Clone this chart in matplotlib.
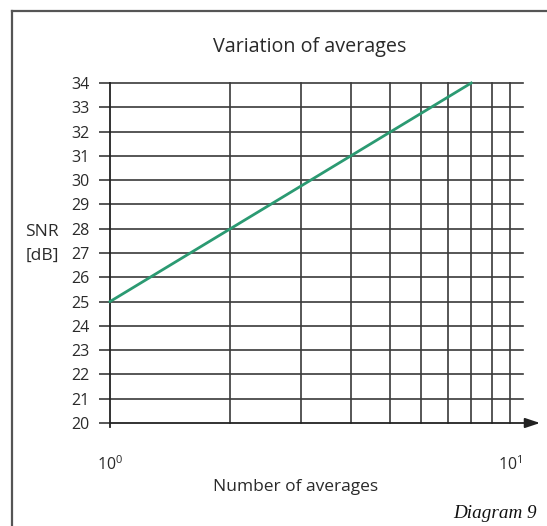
import numpy as np
import matplotlib
matplotlib.use("Agg")
import matplotlib.pyplot as plt
from matplotlib.lines import Line2D

plt.rcParams['font.family'] = ['Open Sans', 'DejaVu Sans']
plt.rcParams['mathtext.fontset'] = 'custom'
plt.rcParams['mathtext.rm'] = 'Open Sans'
plt.rcParams['mathtext.it'] = 'Open Sans'

### data ###
n_avg = [1, 2, 4, 8]
snr_db = [25, 28, 31, 34]
y_ticks = list(range(20, 35))
x_grid = [2, 3, 4, 5, 6, 7, 8, 9, 10]

W, H = 547, 526
fig = plt.figure(figsize=(W / 100, H / 100), dpi=100)

# axes placed in pixel terms: x=1 at 110px, y=20 at 423px
x0, x1 = 110, 540
y_bot, y_top = 423, 75
xmax = 10 ** ((x1 - x0) / 400.0)
ytop = 20 + (y_bot - y_top) / ((423 - 83) / 14.0)
ax = fig.add_axes([x0 / W, 1 - y_bot / H, (x1 - x0) / W, (y_bot - y_top) / H])
ax.set_xscale('log')
ax.set_xlim(1, xmax)
ax.set_ylim(20, ytop)
for s in ax.spines.values():
    s.set_visible(False)

gcol = '#3a3a3a'
txt = '#2a2a2a'
grid_end = 10 ** ((523 - x0) / 400.0)
# horizontal grid
for v in y_ticks[1:]:
    ax.plot([1, grid_end], [v, v], color=gcol, lw=1.2, clip_on=False, zorder=1)
# vertical grid
for v in x_grid:
    ax.plot([v, v], [20, 34], color=gcol, lw=1.2, clip_on=False, zorder=1)
# y axis line
ax.plot([1, 1], [19.84, 34], color='#222222', lw=1.3, clip_on=False, zorder=2)
# x axis with arrow
ax.annotate('', xy=(xmax, 20), xytext=(1, 20), annotation_clip=False,
            arrowprops=dict(arrowstyle='-|>,head_length=0.9,head_width=0.3',
                            color='#222222', lw=1.3, shrinkA=0, shrinkB=0))

ax.plot(n_avg, snr_db, color='#2b9a72', lw=2, zorder=3, clip_on=False)

ax.set_yticks(y_ticks)
ax.set_yticklabels([str(v) for v in y_ticks], fontsize=11.5, color=txt)
ax.tick_params(axis='y', direction='out', length=8, width=1.2, color=gcol, pad=7)
ax.set_xticks([1, 10])
ax.set_xticklabels([r'$10^{0}$', r'$10^{1}$'], fontsize=11.5, color=txt)
ax.xaxis.set_minor_locator(matplotlib.ticker.NullLocator())
ax.tick_params(axis='x', length=0, pad=23)

fig.text(310 / W, 1 - 47 / H, 'Variation of averages', fontsize=14.2, ha='center',
         va='center', color=txt)
fig.text(296 / W, 1 - 487 / H, 'Number of averages', fontsize=12.5, ha='center',
         va='center', color=txt)
fig.text(42 / W, 1 - 232 / H, 'SNR', fontsize=12.5, ha='center', va='center', color=txt)
fig.text(42 / W, 1 - 256 / H, '[dB]', fontsize=12.5, ha='center', va='center', color=txt)
fig.text(537 / W, 1 - 513 / H, 'Diagram 9', fontsize=13.8, ha='right', va='center',
         family='Liberation Serif', style='italic', color='#111111')

# frame round the figure
fig.add_artist(Line2D([11.5 / W, 11.5 / W], [0, 1 - 10.5 / H], color='#555555', lw=1.6))
fig.add_artist(Line2D([11.5 / W, 1], [1 - 10.5 / H, 1 - 10.5 / H], color='#555555', lw=1.6))

fig.savefig('out.png', dpi=100)
